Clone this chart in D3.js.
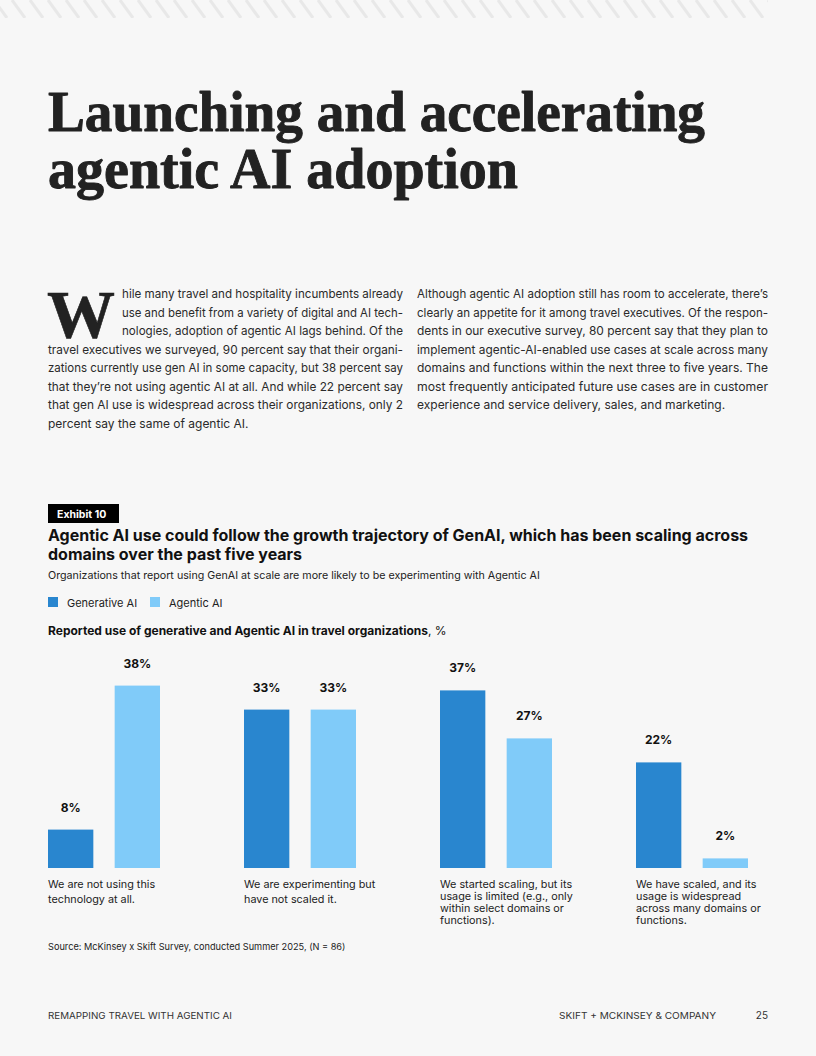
<!DOCTYPE html>
<html>
<head>
<meta charset="utf-8">
<script src="https://cdn.jsdelivr.net/npm/d3@7"></script>
<style>
  html, body { margin: 0; padding: 0; background: #f7f7f7; }
  svg { display: block; }
</style>
</head>
<body>
<script>
// ---------- DATA ----------
const categories = [
  "We are not using this technology at all.",
  "We are experimenting but have not scaled it.",
  "We started scaling, but its usage is limited (e.g., only within select domains or functions).",
  "We have scaled, and its usage is widespread across many domains or functions."
];
const categoryLines = [
  ["We are not using this", "technology at all."],
  ["We are experimenting but", "have not scaled it."],
  ["We started scaling, but its", "usage is limited (e.g., only", "within select domains or", "functions)."],
  ["We have scaled, and its", "usage is widespread", "across many domains or", "functions."]
];
const seriesNames = ["Generative AI", "Agentic AI"];
const generativeAI = [8, 33, 37, 22];
const agenticAI = [38, 33, 27, 2];
const colors = ["#2986cf", "#80cbf9"];

const titleLines = ["Launching and accelerating", "agentic AI adoption"];
const leftColumn = [
  "hile many travel and hospitality incumbents already",
  "use and benefit from a variety of digital and AI tech-",
  "nologies, adoption of agentic AI lags behind. Of the",
  "travel executives we surveyed, 90 percent say that their organi-",
  "zations currently use gen AI in some capacity, but 38 percent say",
  "that they’re not using agentic AI at all. And while 22 percent say",
  "that gen AI use is widespread across their organizations, only 2",
  "percent say the same of agentic AI."
];
const rightColumn = [
  "Although agentic AI adoption still has room to accelerate, there’s",
  "clearly an appetite for it among travel executives. Of the respon-",
  "dents in our executive survey, 80 percent say that they plan to",
  "implement agentic-AI-enabled use cases at scale across many",
  "domains and functions within the next three to five years. The",
  "most frequently anticipated future use cases are in customer",
  "experience and service delivery, sales, and marketing."
];
const exhibitLabel = "Exhibit 10";
const exhibitTitle = ["Agentic AI use could follow the growth trajectory of GenAI, which has been scaling across", "domains over the past five years"];
const exhibitSubtitle = "Organizations that report using GenAI at scale are more likely to be experimenting with Agentic AI";
const chartTitleBold = "Reported use of generative and Agentic AI in travel organizations";
const chartTitleUnit = ", %";
const sourceText = "Source: McKinsey x Skift Survey, conducted Summer 2025, (N = 86)";
const footerLeft = "REMAPPING TRAVEL WITH AGENTIC AI";
const footerRight = "SKIFT  +  MCKINSEY & COMPANY";
const pageNumber = "25";

// ---------- PAGE ----------
const W = 816, H = 1056;
const ink = "#222222";
const sans = "Inter, 'Noto Sans', sans-serif";
const serif = "'Liberation Serif', 'DejaVu Serif', serif";

const svg = d3.select("body").append("svg").attr("width", W).attr("height", H);
svg.append("rect").attr("width", W).attr("height", H).attr("fill", "#f7f7f7");

// top hatched stripe
const stripeG = svg.append("g");
stripeG.append("clipPath").attr("id", "stripeClip")
  .append("rect").attr("x", 0).attr("y", 0).attr("width", 768).attr("height", 18);
const stripeXs = d3.range(-24, 790, 18);
stripeG.append("g").attr("clip-path", "url(#stripeClip)")
  .selectAll("line").data(stripeXs).join("line")
  .attr("x1", d => d).attr("y1", 0)
  .attr("x2", d => d + 13).attr("y2", 18)
  .attr("stroke", "#e8e8e8").attr("stroke-width", 3);

// Title
svg.append("g").selectAll("text").data(titleLines).join("text")
  .attr("x", 48).attr("y", (d, i) => 131 + i * 57)
  .attr("font-family", serif).attr("font-weight", 700)
  .attr("font-size", 56).attr("fill", ink)
  .attr("stroke", ink).attr("stroke-width", 0.9).attr("stroke-linejoin", "round")
  .attr("textLength", (d, i) => [657, 470][i])
  .attr("lengthAdjust", "spacingAndGlyphs")
  .text(d => d);

// Drop cap
svg.append("text").attr("x", 47).attr("y", 337)
  .attr("font-family", serif).attr("font-weight", 700)
  .attr("font-size", 68).attr("fill", ink)
  .attr("stroke", ink).attr("stroke-width", 0.6)
  .attr("textLength", 68).attr("lengthAdjust", "spacingAndGlyphs")
  .text("W");

function bodyColumn(lines, starts, right, y0) {
  const g = svg.append("g");
  g.selectAll("text").data(lines).join("text")
    .attr("x", (d, i) => starts(i))
    .attr("y", (d, i) => y0 + i * 18.5)
    .attr("font-family", sans).attr("font-size", 12)
    .attr("fill", "#2a2a2a")
    .each(function (d, i) {
      const t = d3.select(this).text(d);
      if (i < lines.length - 1) {
        t.attr("textLength", right - starts(i)).attr("lengthAdjust", "spacingAndGlyphs");
      }
    });
}
bodyColumn(leftColumn, i => (i < 3 ? 122 : 48), 403, 298);
bodyColumn(rightColumn, i => 417, 768, 298);

// Exhibit header
svg.append("rect").attr("x", 48).attr("y", 504).attr("width", 71).attr("height", 19).attr("fill", "#000");
svg.append("text").attr("x", 57).attr("y", 518)
  .attr("font-family", sans).attr("font-weight", 700).attr("font-size", 10.5)
  .attr("fill", "#fff").text(exhibitLabel);

svg.append("g").selectAll("text").data(exhibitTitle).join("text")
  .attr("x", 48).attr("y", (d, i) => 541 + i * 18.5)
  .attr("font-family", sans).attr("font-weight", 700).attr("font-size", 16)
  .attr("fill", "#111").text(d => d);

svg.append("text").attr("x", 48).attr("y", 579)
  .attr("font-family", sans).attr("font-size", 10.7).attr("fill", "#222")
  .text(exhibitSubtitle);

// Legend
const legendX = [48, 150];
const lg = svg.append("g").selectAll("g").data(seriesNames).join("g")
  .attr("transform", (d, i) => `translate(${legendX[i]},597)`);
lg.append("rect").attr("width", 10).attr("height", 10).attr("fill", (d, i) => colors[i]);
lg.append("text").attr("x", 19).attr("y", 9.5)
  .attr("font-family", sans).attr("font-size", 11).attr("fill", "#222").text(d => d);

// Chart title
const ct = svg.append("text").attr("x", 48).attr("y", 635)
  .attr("font-family", sans).attr("font-size", 12).attr("fill", "#111");
ct.append("tspan").attr("font-weight", 700).text(chartTitleBold);
ct.append("tspan").text(chartTitleUnit);

// ---------- CHART ----------
const x0 = d3.scaleBand().domain(categories).range([48, 832]).paddingInner(0).paddingOuter(0);
const x1 = d3.scaleBand().domain(seriesNames).range([0, 112]).paddingInner(0.32).paddingOuter(0);
const y = d3.scaleLinear().domain([0, 40]).range([868, 676]);

const rows = categories.map((c, i) => ({
  cat: c, lines: categoryLines[i],
  vals: [generativeAI[i], agenticAI[i]]
}));

const groups = svg.append("g").selectAll("g").data(rows).join("g")
  .attr("transform", d => `translate(${x0(d.cat)},0)`);

groups.selectAll("rect").data(d => d.vals.map((v, j) => ({ s: seriesNames[j], v, j })))
  .join("rect")
  .attr("x", d => x1(d.s)).attr("width", x1.bandwidth())
  .attr("y", d => y(d.v)).attr("height", d => y(0) - y(d.v))
  .attr("fill", d => colors[d.j]);

groups.selectAll("text.val").data(d => d.vals.map((v, j) => ({ s: seriesNames[j], v, j })))
  .join("text").attr("class", "val")
  .attr("x", d => x1(d.s) + x1.bandwidth() / 2)
  .attr("y", d => y(d.v) - 18)
  .attr("text-anchor", "middle")
  .attr("font-family", sans).attr("font-weight", 700).attr("font-size", 12)
  .attr("fill", "#111").text(d => d.v + "%");

groups.each(function (d) {
  const lh = d.lines.length > 2 ? 12 : 14.5;
  d3.select(this).selectAll("text.cat").data(d.lines).join("text").attr("class", "cat")
    .attr("x", 0).attr("y", (t, i) => 888 + i * lh)
    .attr("font-family", sans).attr("font-size", 10.8).attr("fill", "#222")
    .text(t => t);
});

// Source
svg.append("text").attr("x", 48).attr("y", 950)
  .attr("font-family", sans).attr("font-size", 9.2).attr("fill", "#222")
  .text(sourceText);

// Footer
svg.append("text").attr("x", 48).attr("y", 1019)
  .attr("font-family", sans).attr("font-size", 9.5).attr("fill", "#333")
  .attr("textLength", 184).attr("lengthAdjust", "spacingAndGlyphs")
  .text(footerLeft);
svg.append("text").attr("x", 559).attr("y", 1019)
  .attr("font-family", sans).attr("font-size", 9.5).attr("fill", "#333")
  .attr("textLength", 157).attr("lengthAdjust", "spacingAndGlyphs")
  .text(footerRight);
svg.append("text").attr("x", 768).attr("y", 1019).attr("text-anchor", "end")
  .attr("font-family", sans).attr("font-size", 10).attr("fill", "#333")
  .text(pageNumber);
</script>
</body>
</html>
